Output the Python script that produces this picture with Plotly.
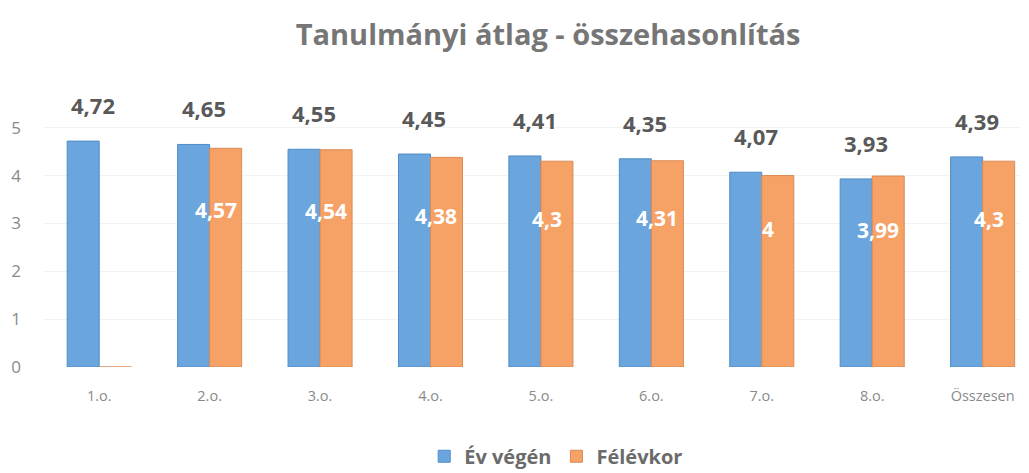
import plotly.graph_objects as go

# adatok
osztalyok = ["1.o.", "2.o.", "3.o.", "4.o.", "5.o.", "6.o.", "7.o.", "8.o.", "Összesen"]
ev_vegen = [4.72, 4.65, 4.55, 4.45, 4.41, 4.35, 4.07, 3.93, 4.39]
felevkor = [0, 4.57, 4.54, 4.38, 4.3, 4.31, 4, 3.99, 4.3]

KEK = "#6aa6dd"
NARANCS = "#f6a165"
SZURKE = "#595959"


def hu(v):
    # magyar tizedesvessző
    return f"{v:g}".replace(".", ",")


fig = go.Figure()
fig.add_trace(go.Bar(
    x=osztalyok, y=ev_vegen, name="Év végén",
    marker=dict(color=KEK, line=dict(color="#4f8cc6", width=1)),
))
fig.add_trace(go.Bar(
    x=osztalyok, y=felevkor, name="Félévkor",
    marker=dict(color=NARANCS, line=dict(color="#d98a55", width=1)),
))

# feliratok: év végén az oszlop fölött, félévkor fehérrel az oszlopban
annotations = []
for kat, v in zip(osztalyok, ev_vegen):
    annotations.append(dict(
        x=kat, y=v, text=f"<b>{hu(v)}</b>", showarrow=False,
        yshift=36, xshift=-6,
        font=dict(family="Open Sans", size=22, color=SZURKE),
    ))
for kat, v in zip(osztalyok, felevkor):
    if v == 0:
        continue
    annotations.append(dict(
        x=kat, y=v * 0.72, text=f"<b>{hu(v)}</b>", showarrow=False,
        xshift=6,
        font=dict(family="Open Sans", size=21, color="white"),
    ))

# az oldal ~8px-es margója miatt kicsit kisebb ábra
fig.update_layout(
    width=1021, height=465,
    margin=dict(l=36, r=0, t=91, b=106),
    paper_bgcolor="white", plot_bgcolor="white",
    barmode="group", bargap=0.42, bargroupgap=0,
    title=dict(
        text="<b>Tanulmányi átlag - összehasonlítás</b>",
        x=0.529, xanchor="center", y=0.942, yanchor="middle",
        font=dict(family="Open Sans", size=29, color="#767676"),
    ),
    font=dict(family="Open Sans", color="#8a8a8a"),
    xaxis=dict(
        range=[-0.5, 8.42], showgrid=False, showline=False,
        tickfont=dict(size=14.5, color="#8a8a8a"), ticks="",
        ticklabelstandoff=18,
    ),
    yaxis=dict(
        range=[0, 5.6], tickvals=[0, 1, 2, 3, 4, 5],
        showgrid=True, gridcolor="#f3f3f3", zeroline=False,
        tickfont=dict(size=17, color="#8a8a8a"), ticklabelstandoff=22,
    ),
    legend=dict(
        orientation="h", x=0.52, xanchor="center",
        yref="container", y=0.036, yanchor="middle",
        font=dict(family="Open Sans", size=20, color="#6b6b6b", weight="bold"),
        itemwidth=30, traceorder="normal",
    ),
    annotations=annotations,
)

fig.write_html("out.html")
